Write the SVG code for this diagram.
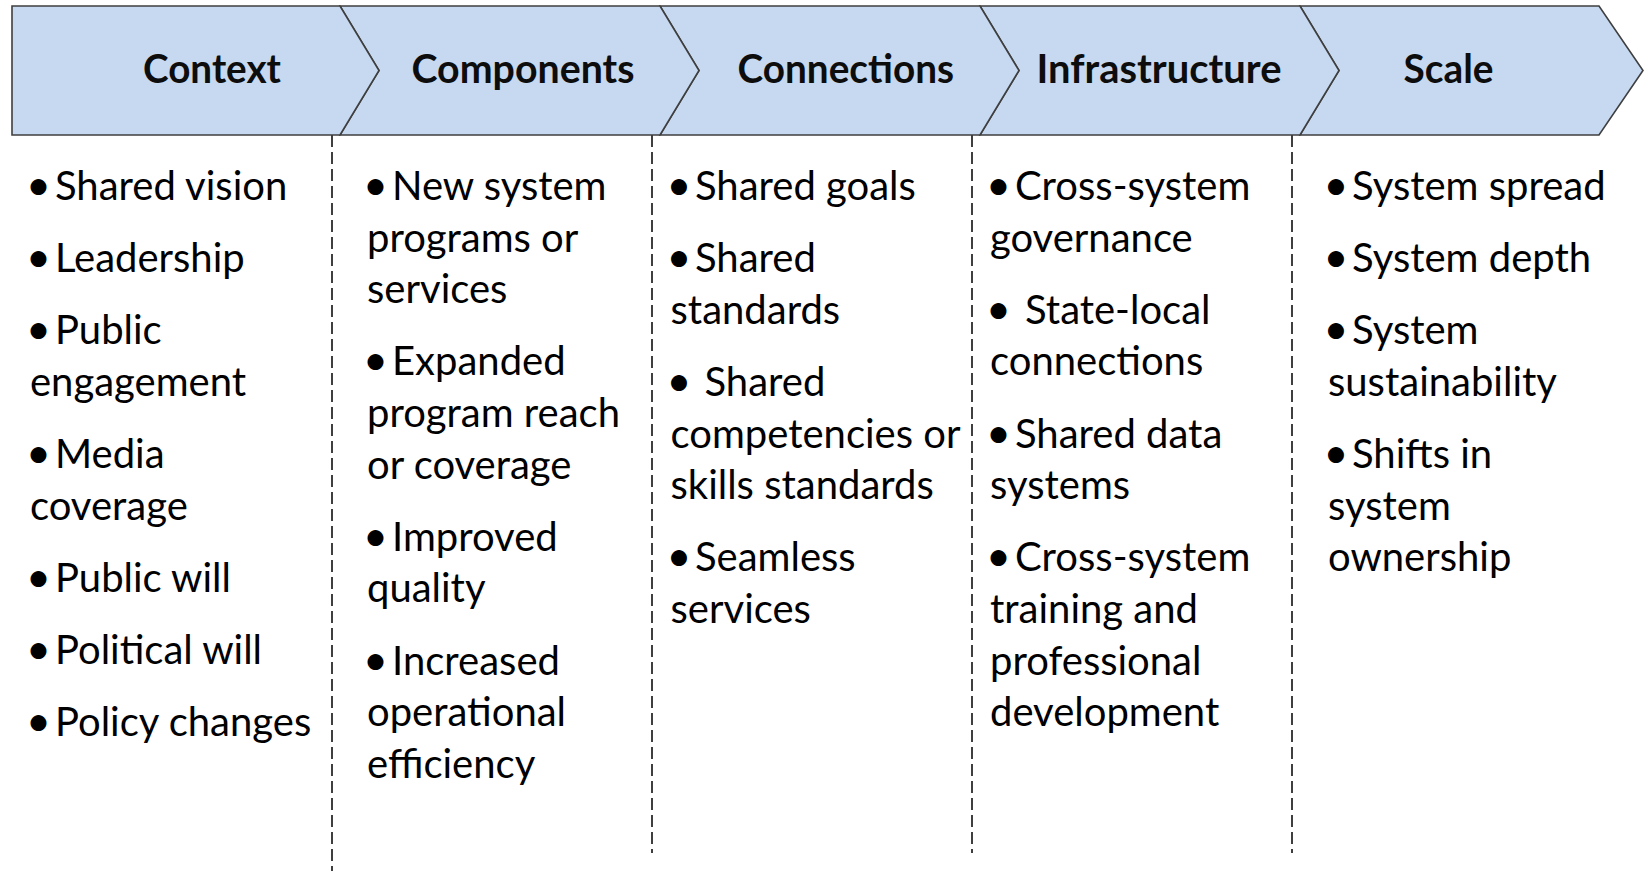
<svg xmlns="http://www.w3.org/2000/svg" width="1647" height="871" viewBox="0 0 1647 871">
<style>
.bg{fill:#ffffff}
.chev{fill:#C6D9F1;stroke:#3F3F3F;stroke-width:1.6;stroke-linejoin:miter}
.hdr{font-family:Lato,"Open Sans","Liberation Sans",sans-serif;font-weight:700;font-size:40px;fill:#0d0d0d}
.body{font-family:Lato,"Open Sans","Liberation Sans",sans-serif;font-size:40px;fill:#000000}
.bul{font-size:43px}
.div{stroke:#000000;stroke-width:1.5;stroke-dasharray:12 5;fill:none}
</style>
<rect class="bg" x="0" y="0" width="1647" height="871"/>
<g id="dividers">
<line class="div" x1="332" y1="135" x2="332" y2="871"/>
<line class="div" x1="652" y1="135" x2="652" y2="853"/>
<line class="div" x1="972" y1="135" x2="972" y2="853"/>
<line class="div" x1="1292" y1="135" x2="1292" y2="853"/>
</g>
<g id="stage-scale">
<path class="chev" d="M1300,6 L1599,6 L1643,70.5 L1599,135 L1300,135 L1339,70.5 Z"/>
<text class="hdr" x="1403.5" y="83" textLength="90" lengthAdjust="spacingAndGlyphs">Scale</text>
</g>
<g id="stage-infrastructure">
<path class="chev" d="M980,6 L1300,6 L1339,70.5 L1300,135 L980,135 L1019,70.5 Z"/>
<text class="hdr" x="1036.5" y="83" textLength="245" lengthAdjust="spacingAndGlyphs">Infrastructure</text>
</g>
<g id="stage-connections">
<path class="chev" d="M660,6 L980,6 L1019,70.5 L980,135 L660,135 L699,70.5 Z"/>
<text class="hdr" x="737.5" y="83" textLength="216.5" lengthAdjust="spacingAndGlyphs">Connections</text>
</g>
<g id="stage-components">
<path class="chev" d="M340,6 L660,6 L699,70.5 L660,135 L340,135 L379,70.5 Z"/>
<text class="hdr" x="411.5" y="83" textLength="223" lengthAdjust="spacingAndGlyphs">Components</text>
</g>
<g id="stage-context">
<path class="chev" d="M12,6 L340,6 L379,70.5 L340,135 L12,135 Z"/>
<text class="hdr" x="143" y="83" textLength="138" lengthAdjust="spacingAndGlyphs">Context</text>
</g>
<g id="col-context" class="body">
<text x="26" y="200"><tspan class="bul">•</tspan><tspan x="55">Shared vision</tspan></text>
<text x="26" y="272.2"><tspan class="bul">•</tspan><tspan x="55">Leadership</tspan></text>
<text x="26" y="344.4"><tspan class="bul">•</tspan><tspan x="55">Public</tspan></text>
<text x="30" y="396">engagement</text>
<text x="26" y="468.2"><tspan class="bul">•</tspan><tspan x="55">Media</tspan></text>
<text x="30" y="519.8">coverage</text>
<text x="26" y="592"><tspan class="bul">•</tspan><tspan x="55">Public will</tspan></text>
<text x="26" y="664.2"><tspan class="bul">•</tspan><tspan x="55">Political will</tspan></text>
<text x="26" y="736.4"><tspan class="bul">•</tspan><tspan x="55">Policy changes</tspan></text>
</g>
<g id="col-components" class="body">
<text x="363" y="200"><tspan class="bul">•</tspan><tspan x="392">New system</tspan></text>
<text x="367" y="251.6">programs or</text>
<text x="367" y="303.2">services</text>
<text x="363" y="375.4"><tspan class="bul">•</tspan><tspan x="392">Expanded</tspan></text>
<text x="367" y="427">program reach</text>
<text x="367" y="478.6">or coverage</text>
<text x="363" y="550.8"><tspan class="bul">•</tspan><tspan x="392">Improved</tspan></text>
<text x="367" y="602.4">quality</text>
<text x="363" y="674.6"><tspan class="bul">•</tspan><tspan x="392">Increased</tspan></text>
<text x="367" y="726.2">operational</text>
<text x="367" y="777.8">efficiency</text>
</g>
<g id="col-connections" class="body">
<text x="666.5" y="200"><tspan class="bul">•</tspan><tspan x="695">Shared goals</tspan></text>
<text x="666.5" y="272.2"><tspan class="bul">•</tspan><tspan x="695">Shared</tspan></text>
<text x="670.5" y="323.8">standards</text>
<text x="666.5" y="396"><tspan class="bul">•</tspan><tspan x="704.5">Shared</tspan></text>
<text x="670.5" y="447.6">competencies or</text>
<text x="670.5" y="499.2">skills standards</text>
<text x="666.5" y="571.4"><tspan class="bul">•</tspan><tspan x="695">Seamless</tspan></text>
<text x="670.5" y="623">services</text>
</g>
<g id="col-infrastructure" class="body">
<text x="986" y="200"><tspan class="bul">•</tspan><tspan x="1015">Cross-system</tspan></text>
<text x="990" y="251.6">governance</text>
<text x="986" y="323.8"><tspan class="bul">•</tspan><tspan x="1025">State-local</tspan></text>
<text x="990" y="375.4">connections</text>
<text x="986" y="447.6"><tspan class="bul">•</tspan><tspan x="1015">Shared data</tspan></text>
<text x="990" y="499.2">systems</text>
<text x="986" y="571.4"><tspan class="bul">•</tspan><tspan x="1015">Cross-system</tspan></text>
<text x="990" y="623">training and</text>
<text x="990" y="674.6">professional</text>
<text x="990" y="726.2">development</text>
</g>
<g id="col-scale" class="body">
<text x="1323.5" y="200"><tspan class="bul">•</tspan><tspan x="1352">System spread</tspan></text>
<text x="1323.5" y="272.2"><tspan class="bul">•</tspan><tspan x="1352">System depth</tspan></text>
<text x="1323.5" y="344.4"><tspan class="bul">•</tspan><tspan x="1352">System</tspan></text>
<text x="1328" y="396">sustainability</text>
<text x="1323.5" y="468.2"><tspan class="bul">•</tspan><tspan x="1352">Shifts in</tspan></text>
<text x="1328" y="519.8">system</text>
<text x="1328" y="571.4">ownership</text>
</g>
</svg>
